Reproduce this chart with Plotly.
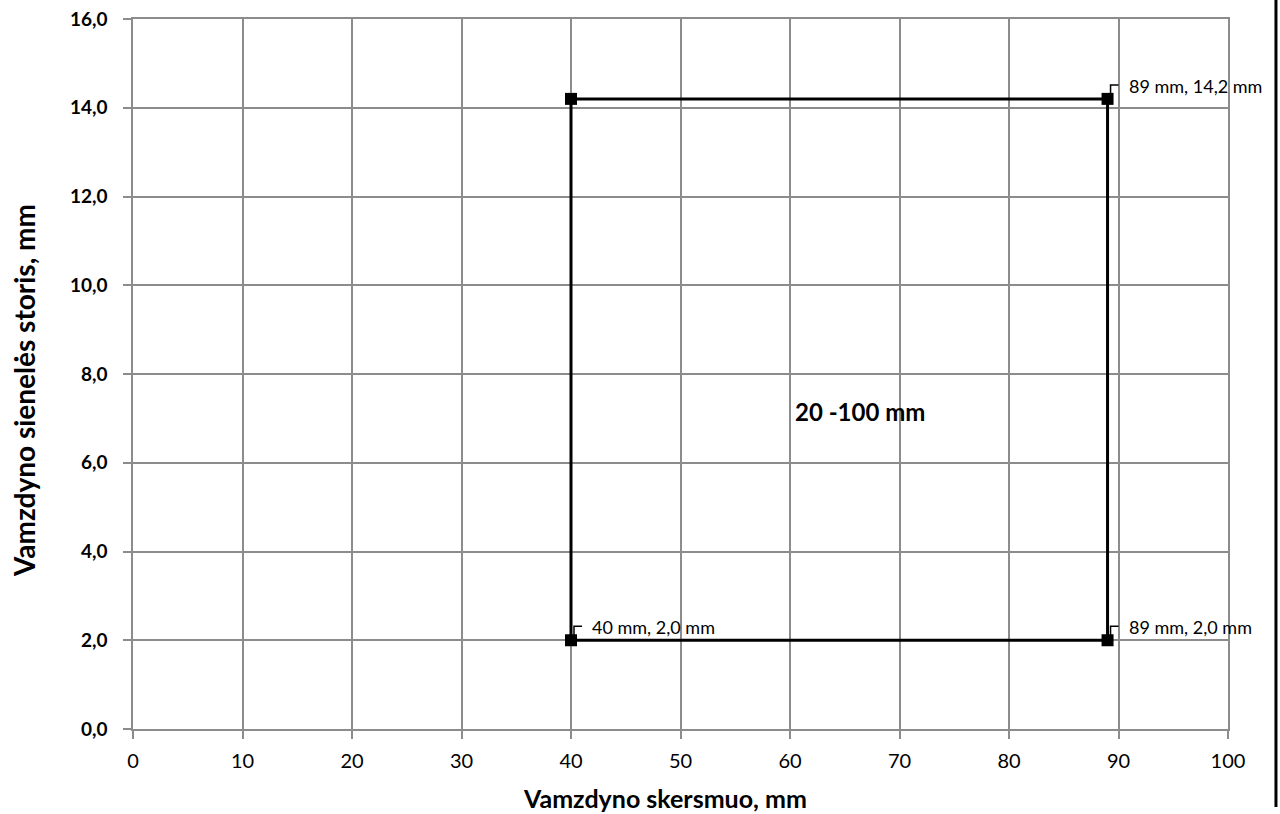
import plotly.graph_objects as go

# Data
corner_x = [40, 40, 89, 89, 40]
corner_y = [14.2, 2.0, 2.0, 14.2, 14.2]
marker_x = [40, 40, 89, 89]
marker_y = [14.2, 2.0, 2.0, 14.2]
label_x = [40, 89, 89]
label_y = [2.0, 2.0, 14.2]
label_text = ["40 mm, 2,0 mm", "89 mm, 2,0 mm", "89 mm, 14,2 mm"]
range_text = "20 -100 mm"
range_pos = (60.3, 7.15)
x_ticks = list(range(0, 101, 10))
y_ticks = [0, 2, 4, 6, 8, 10, 12, 14, 16]
x_title = "Vamzdyno skersmuo, mm"
y_title = "Vamzdyno sienelės storis, mm"

FONT = "Lato"
GRID = "#8c8c8c"

fig = go.Figure()
fig.add_trace(go.Scatter(x=corner_x, y=corner_y, mode="lines",
                         line=dict(color="black", width=3), showlegend=False,
                         hoverinfo="skip"))
fig.add_trace(go.Scatter(x=marker_x, y=marker_y, mode="markers",
                         marker=dict(symbol="square", size=12, color="black"),
                         showlegend=False))

for lx, ly, t in zip(label_x, label_y, label_text):
    fig.add_annotation(x=lx, y=ly, text=t, showarrow=False, xanchor="left",
                       yanchor="middle", xshift=19, yshift=13,
                       font=dict(family=FONT, size=18, color="black"))
    fig.add_shape(type="path", xref="x", yref="y", xsizemode="pixel",
                  ysizemode="pixel", xanchor=lx, yanchor=ly,
                  path="M3,5 L3,14 L11,14",
                  line=dict(color="black", width=1.5))

fig.add_annotation(x=range_pos[0], y=range_pos[1], text="<b>%s</b>" % range_text,
                   showarrow=False, xanchor="left", yanchor="middle",
                   font=dict(family=FONT, size=24, color="black"))

# axis titles
fig.add_annotation(xref="paper", yref="paper", x=0.486, y=0, yshift=-69,
                   text="<b>%s</b>" % x_title, showarrow=False,
                   xanchor="center", yanchor="middle",
                   font=dict(family=FONT, size=25, color="black"))
fig.add_annotation(xref="paper", yref="paper", x=0, y=0.476, xshift=-109,
                   text="<b>%s</b>" % y_title, showarrow=False, textangle=-90,
                   xanchor="center", yanchor="middle",
                   font=dict(family=FONT, size=28, color="black"))

# right black border
fig.add_shape(type="line", xref="paper", yref="paper", x0=1.0438, x1=1.0438,
              y0=-0.11, y1=1.03, line=dict(color="black", width=3))

fig.update_layout(
    width=1280, height=814,
    margin=dict(l=133, r=52, t=19, b=85),
    plot_bgcolor="white", paper_bgcolor="white",
    separators=",.",
    font=dict(family=FONT, color="black"),
)
fig.update_xaxes(range=[0, 100], tickvals=x_ticks, showgrid=True,
                 gridcolor=GRID, gridwidth=1.5, zeroline=False,
                 showline=True, linecolor=GRID, linewidth=1.5,
                 ticks="outside", ticklen=8, tickcolor=GRID, tickwidth=1.5,
                 ticklabelstandoff=5, automargin=False, ticklabeloverflow="allow",
                 tickfont=dict(family=FONT, size=20, color="black"),
                 mirror=True)
fig.update_yaxes(range=[0, 16], tickvals=y_ticks, tickformat=".1f", showgrid=True,
                 gridcolor=GRID, gridwidth=1.5, zeroline=False,
                 showline=True, linecolor=GRID, linewidth=1.5,
                 ticks="outside", ticklen=8, tickcolor=GRID, tickwidth=1.5,
                 ticklabelstandoff=12, automargin=False, ticklabeloverflow="allow",
                 tickfont=dict(family=FONT, size=19, color="black", weight="bold"),
                 mirror=True)

fig.write_html("out.html", config={"displayModeBar": False},
               post_script="document.body.style.margin='0';document.body.style.overflow='hidden';")
